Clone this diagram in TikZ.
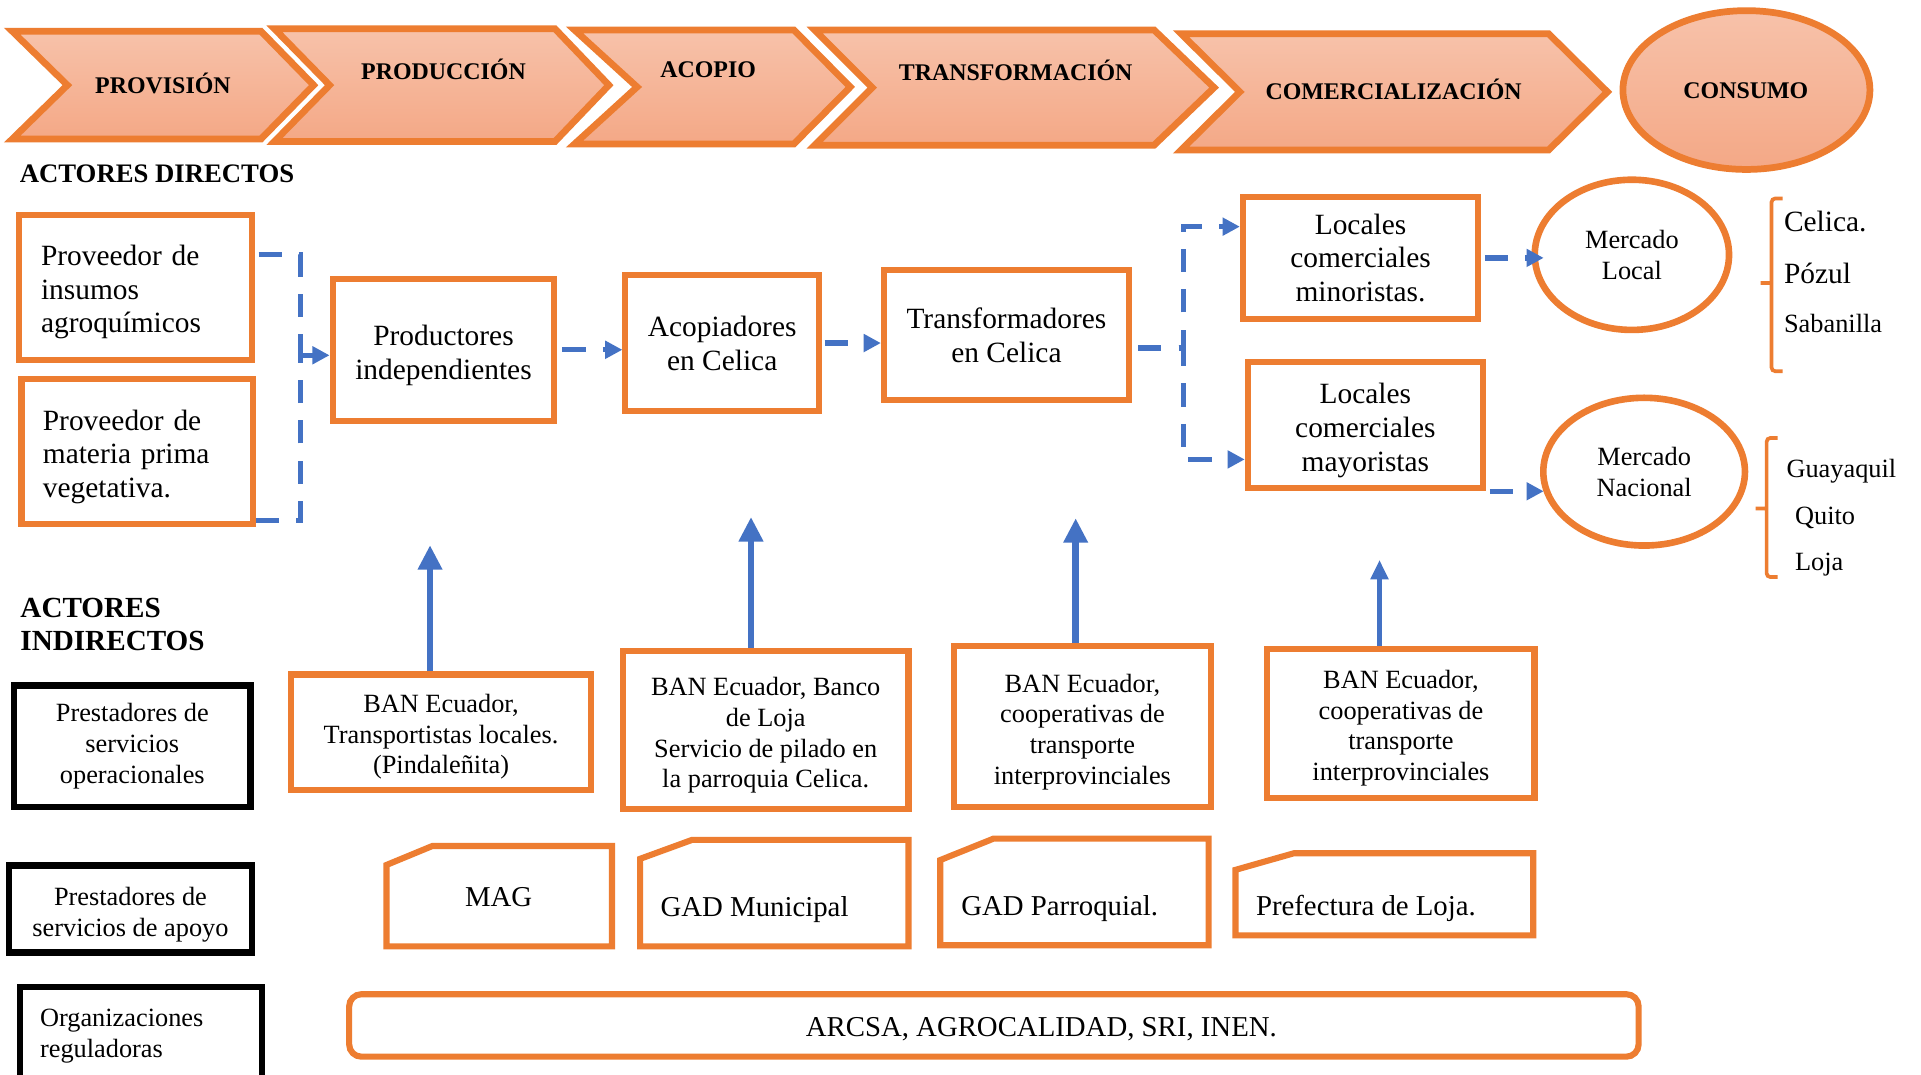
\documentclass[tikz,border=0pt]{standalone}
\usepackage{fontspec}
\setmainfont{Liberation Serif}
\usetikzlibrary{arrows.meta,shapes.geometric}

\definecolor{orng}{RGB}{237,125,49}
\definecolor{blu}{RGB}{68,114,196}
\definecolor{peachtop}{RGB}{247,194,170}
\definecolor{peachbot}{RGB}{244,168,134}

\newcommand{\txtmain}{\fontsize{24}{27.6}\selectfont}
\newcommand{\txtsmall}{\fontsize{21.5}{25}\selectfont}
\newcommand{\txtmid}{\fontsize{23.5}{27}\selectfont}
\newcommand{\txtstage}{\fontsize{19.5}{22}\selectfont\bfseries}
% invisible strut that pushes a text block down inside its box
\newcommand{\topgap}[1]{\rule{0pt}{#1pt}}

\begin{document}
\begin{tikzpicture}[x=1pt,y=-1pt,
  chev/.style={draw=orng, line width=5.5pt, top color=peachtop, bottom color=peachbot},
  stage/.style={inner sep=0pt, font=\txtstage, text height=13pt, text depth=0pt},
  box/.style={draw=orng, line width=5pt, rectangle, inner sep=0pt, align=center, font=\txtmain},
  sbox/.style={draw=orng, line width=5pt, rectangle, inner sep=0pt, align=center, font=\txtsmall},
  blkbox/.style={draw=black, line width=5pt, rectangle, inner sep=0pt, align=center, font=\txtsmall},
  ell/.style={draw=orng, line width=5.4pt, ellipse, inner sep=0pt, align=center, font=\txtsmall},
  snip/.style={draw=orng, line width=5pt, line join=miter},
  one/.style={inner sep=0pt, text height=16pt, text depth=0pt},
  hdr/.style={inner sep=0pt, align=left},
  dcon/.style={draw=blu, line width=4.3pt, dash pattern=on 19pt off 14pt},
  dtip/.style={dcon, -{Triangle[length=14pt,width=14pt]}},
  upar/.style={draw=blu, line width=5.5pt, -{Triangle[length=20pt,width=19pt]}},
  brc/.style={draw=orng, line width=3pt, rounded corners=3pt},
]
\useasboundingbox (0,0) rectangle (1568,877);
\fill[white] (0,0) rectangle (1568,877);

% ---- value chain stages ----
\draw[chev] (10,25.5) -- (213,25.5) -- (256,69.5) -- (213,113.5) -- (10,113.5) -- (55,69.5) -- cycle;
\draw[chev] (224,23.5) -- (453,23.5) -- (497,69.5) -- (453,115.5) -- (224,115.5) -- (269,69.5) -- cycle;
\draw[chev] (469,24.5) -- (648,24.5) -- (694,71) -- (648,117.5) -- (469,117.5) -- (520,71) -- cycle;
\draw[chev] (665,24.5) -- (942,24.5) -- (991,71.5) -- (942,118.5) -- (665,118.5) -- (712,71.5) -- cycle;
\draw[chev] (964,27.5) -- (1264,27.5) -- (1312,75) -- (1264,122.5) -- (964,122.5) -- (1012,75) -- cycle;
\node[ell, line width=5.5pt, top color=peachtop, bottom color=peachbot,
      minimum width=201.6pt, minimum height=129.6pt] (cons) at (1425.5,73.5) {};

\node[stage] (sprov) at (133,70) {PROVISIÓN};
\node[stage] (sprod) at (362,58.5) {PRODUCCIÓN};
\node[stage] (sacop) at (578,57) {ACOPIO};
\node[stage] (strans) at (829,59) {TRANSFORMACIÓN};
\node[stage] (scom) at (1137.5,75) {COMERCIALIZACIÓN};
\node[stage] (scons) at (1425,74) {CONSUMO};

% ---- direct actors ----
\node[hdr, anchor=west, font=\fontsize{21.8}{26}\selectfont\bfseries] (actd) at (16,142) {ACTORES DIRECTOS};

\node[box, minimum width=190pt, minimum height=118pt, text width=154pt, align=left] (prov1) at (110.5,234.5)
  {\topgap{24.4}Proveedor de\\insumos\\agroquímicos};
\node[box, minimum width=189pt, minimum height=118pt, text width=154pt, align=left] (prov2) at (112,368.5)
  {\topgap{25.4}Proveedor de\\materia prima\\vegetativa.};
\node[box, minimum width=181pt, minimum height=116pt] (prod) at (362,285.5) {\topgap{25.4}Productores\\independientes};
\node[box, minimum width=158pt, minimum height=111pt] (acop) at (589.5,280) {Acopiadores\\en Celica};
\node[box, minimum width=200pt, minimum height=106pt] (trans) at (821.5,273.5) {Transformadores\\en Celica};
\node[box, minimum width=192pt, minimum height=100pt] (mino) at (1110.5,210.5) {Locales\\comerciales\\minoristas.};
\node[box, minimum width=192pt, minimum height=103pt] (mayo) at (1114.5,347) {\topgap{25.4}Locales\\comerciales\\mayoristas};

\node[ell, minimum width=158.6pt, minimum height=122.6pt] (mloc) at (1332,208) {Mercado\\Local};
\node[ell, minimum width=164.6pt, minimum height=120.6pt] (mnac) at (1342,385) {Mercado\\Nacional};

% places served by each market
\draw[brc] (1455,162) -- (1446,162) -- (1446,303) -- (1455,303) (1446,231) -- (1437,231);
\draw[brc] (1451,357.5) -- (1442,357.5) -- (1442,471) -- (1451,471) (1442,415) -- (1433,415);
\node[one, anchor=west, font=\txtmain] (pcel) at (1456,181) {Celica.};
\node[one, anchor=west, font=\txtmain] (ppoz) at (1456,223) {Pózul};
\node[one, anchor=west, font=\txtsmall] (psab) at (1456,263) {Sabanilla};
\node[one, anchor=west, font=\txtsmall] (pgua) at (1458,382) {Guayaquil};
\node[one, anchor=west, font=\txtsmall] (pqui) at (1465,420) {Quito};
\node[one, anchor=west, font=\txtsmall] (ploj) at (1465,458) {Loja};

% ---- flow between direct actors ----
\coordinate (ja) at (245,208);
\coordinate (jb) at (245,425);
\coordinate (jc) at (245,290);
\draw[dcon, shorten <=3pt] (prov1.east |- ja) -- (ja) -- (jc);
\draw[dcon] (prov2.east |- jb) -- (jb) -- (jc);
\draw[dtip] (jc) -- (prod.west |- jc);
\draw[dtip, shorten <=4pt] (prod.east) -- (acop.west |- prod.east);
\draw[dtip, shorten <=2pt] (acop.east) -- (trans.west |- acop.east);

\coordinate (ka) at (966,284);
\coordinate (kb) at (966,185);
\coordinate (kc) at (966,375);
\draw[dtip, shorten <=5pt] (trans.east |- ka) -- (ka) -- (kb) -- (mino.west |- kb);
\draw[dtip, shorten <=5pt] (trans.east |- ka) -- (ka) -- (kc) -- (mayo.west |- kc);
\draw[dtip, shorten <=3pt, shorten >=-10pt] (mino.east) -- (mino.east -| mloc.west);
\draw[dtip, shorten <=3pt, shorten >=-3pt] (mayo.south east) -- (mayo.south east -| mnac.west);

% ---- indirect actors ----
\node[hdr, anchor=west, font=\fontsize{23.8}{27}\selectfont\bfseries] (acti) at (16.5,509.5) {ACTORES\\INDIRECTOS};

\node[blkbox, minimum width=193pt, minimum height=99pt] (oper) at (108,609) {Prestadores de\\servicios\\operacionales};
\node[blkbox, minimum width=198pt, minimum height=71pt] (apoy) at (106.5,742) {\topgap{23.7}Prestadores de\\servicios de apoyo};
\node[blkbox, minimum width=197pt, minimum height=100pt] (regu) at (115,855.5) {};
\node[hdr, anchor=west, font=\txtsmall] (regt) at (32.5,845.5) {Organizaciones\\reguladoras};

\node[sbox, minimum width=245pt, minimum height=94pt] (ban1) at (360,597.5)
  {\topgap{22.7}BAN Ecuador,\\Transportistas locales.\\(Pindaleñita)};
\node[sbox, minimum width=233pt, minimum height=129pt] (ban2) at (625,596)
  {\topgap{23.7}BAN Ecuador, Banco\\de Loja\\Servicio de pilado en\\la parroquia Celica.};
\node[sbox, minimum width=210pt, minimum height=131pt] (ban3) at (883.5,593)
  {\topgap{23.7}BAN Ecuador,\\cooperativas de\\transporte\\interprovinciales};
\node[sbox, minimum width=218pt, minimum height=122pt] (ban4) at (1143.5,590.5)
  {\topgap{22.7}BAN Ecuador,\\cooperativas de\\transporte\\interprovinciales};

\coordinate (ua) at (351,445);
\coordinate (ub) at (613,422);
\coordinate (uc) at (878,423);
\coordinate (ud) at (1126,457);
\draw[upar] (ua |- ban1.north) -- (ua);
\draw[upar] (ub |- ban2.north) -- (ub);
\draw[upar] (uc |- ban3.north) -- (uc);
\draw[upar, line width=4.5pt, -{Triangle[length=16pt,width=14pt]}] (ud |- ban4.north) -- (ud);

% support providers (snipped-corner boxes)
\draw[snip] (315.5,706) -- (353,690.5) -- (499.5,690.5) -- (499.5,772.5) -- (315.5,772.5) -- cycle;
\draw[snip] (522.5,701) -- (565,685.5) -- (741.5,685.5) -- (741.5,772.5) -- (522.5,772.5) -- cycle;
\draw[snip] (767.5,702) -- (811,684.5) -- (986.5,684.5) -- (986.5,771.5) -- (767.5,771.5) -- cycle;
\draw[snip] (1008.5,710) -- (1056,696.5) -- (1251.5,696.5) -- (1251.5,763.5) -- (1008.5,763.5) -- cycle;
\node[one, font=\txtmid] (mag) at (407,732) {MAG};
\node[one, anchor=west, font=\txtmid] (gadm) at (539,740) {GAD Municipal};
\node[one, anchor=west, font=\txtmid] (gadp) at (784.5,739) {GAD Parroquial.};
\node[one, anchor=west, font=\txtmid] (pref) at (1025,739) {Prefectura de Loja.};

% regulators
\node[draw=orng, line width=5pt, rounded corners=10pt, inner sep=0pt,
      minimum width=1052.5pt, minimum height=51pt] (arcsa) at (811.25,837) {};
\node[one, font=\txtmid] (arcsat) at (850,838) {ARCSA, AGROCALIDAD, SRI, INEN.};
\end{tikzpicture}
\end{document}
